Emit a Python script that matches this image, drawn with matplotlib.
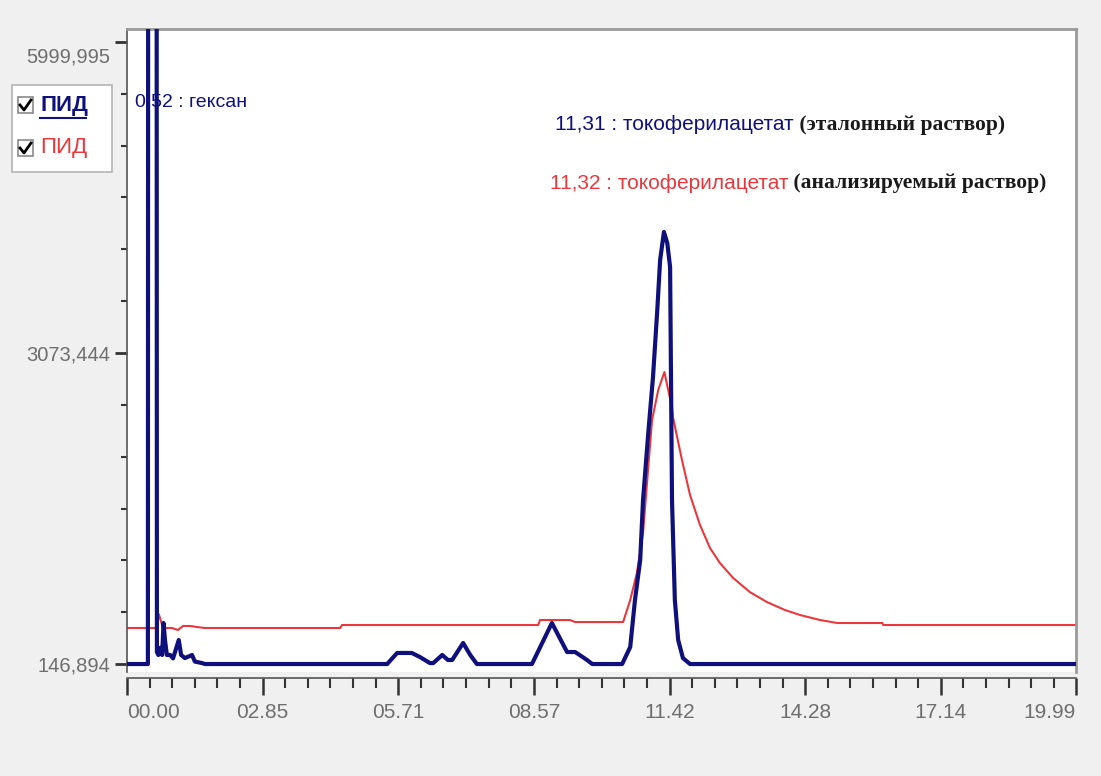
import matplotlib
matplotlib.use("Agg")
import matplotlib.pyplot as plt
import matplotlib.font_manager as fm
import matplotlib.transforms as mtransforms
from matplotlib.patches import Rectangle
from matplotlib.lines import Line2D

# retention time (min) and detector signal
blue_t = [0.00, 0.44, 0.45, 0.62, 0.63, 0.66, 0.70, 0.74, 0.77, 0.80, 0.84, 0.91, 0.97, 1.09, 1.14,
          1.22, 1.37, 1.43, 1.58, 1.64,
          5.48, 5.69, 6.00, 6.17, 6.38, 6.45, 6.64, 6.76, 6.85, 7.08, 7.23, 7.37,
          8.53, 8.95, 9.27, 9.44, 9.69, 9.80,
          10.43, 10.60, 10.70, 10.81, 10.87, 10.98, 11.08, 11.17, 11.23, 11.31, 11.38, 11.44,
          11.48, 11.54, 11.61, 11.71, 11.86, 19.99]
blue_v = [147, 147, 12000, 12000, 260, 232, 300, 232, 533, 373, 232, 232, 200, 373, 232,
          203, 232, 170, 156, 147,
          147, 251, 251, 213, 156, 156, 232, 185, 185, 345, 232, 147,
          147, 533, 260, 260, 185, 147,
          147, 307, 749, 1126, 1690, 2320, 2848, 3478, 3949, 4212, 4109, 3883,
          1690, 749, 373, 203, 147, 147]

red_t = [0.00, 0.63, 0.67, 0.74, 0.80, 0.95, 1.07, 1.18, 1.33, 1.48, 1.64, 1.69,
         4.49, 4.53, 8.66, 8.70, 9.33, 9.44,
         10.45, 10.60, 10.74, 10.87, 10.98, 11.06, 11.19, 11.32, 11.40, 11.48, 11.50,
         11.69, 11.86, 12.07, 12.28, 12.49, 12.77, 13.12, 13.48, 13.86, 14.18, 14.60,
         14.96, 15.91, 15.93, 19.99]
red_v = [486, 486, 617, 514, 486, 486, 467, 505, 505, 495, 486, 486,
         486, 514, 514, 561, 561, 542,
         542, 749, 1003, 1380, 2000, 2443, 2725, 2895, 2725, 2565, 2471,
         2067, 1737, 1455, 1239, 1097, 956, 824, 730, 655, 608, 561,
         533, 533, 514, 514]

y_ticks = [146.894, 3073.444, 5999.995]
y_labels = ["146,894", "3073,444", "5999,995"]
x_ticks = [0, 2.857, 5.714, 8.571, 11.428, 14.285, 17.142, 19.99]
x_labels = ["00.00", "02.85", "05.71", "08.57", "11.42", "14.28", "17.14", "19.99"]

names = {f.name for f in fm.fontManager.ttflist}
sans = "Liberation Sans" if "Liberation Sans" in names else "DejaVu Sans"
serif = "Liberation Serif" if "Liberation Serif" in names else "DejaVu Serif"

navy = "#10107c"
red = "#e8383d"
grey = "#6e6e6e"

W, H = 1101, 776
fig = plt.figure(figsize=(W / 100, H / 100), dpi=100, facecolor="#f0f0f0")
ax = fig.add_axes([127 / W, 1 - 672 / H, 949 / W, (672 - 29) / H])
ax.set_facecolor("white")

ax.plot(red_t, red_v, color=red, lw=1.5, zorder=2)
ax.plot(blue_t, blue_v, color=navy, lw=3.0, zorder=3)

ax.set_xlim(0, 19.99)
ax.set_ylim(72, 6122)

for s in ["top", "right"]:
    ax.spines[s].set_color("#9a9a9a")
    ax.spines[s].set_linewidth(2)
ax.spines["left"].set_color("#555555")
ax.spines["left"].set_linewidth(1.2)
ax.spines["bottom"].set_position(("outward", 4.5))
ax.spines["bottom"].set_color("#555555")
ax.spines["bottom"].set_linewidth(1.2)

ax.set_yticks(y_ticks)
ax.set_yticklabels(y_labels)
ax.set_yticks([y_ticks[0] + k * (y_ticks[1] - y_ticks[0]) / 6 for k in range(13)], minor=True)
ax.set_xticks(x_ticks)
ax.set_xticklabels(x_labels)
ax.set_xticks([k * 2.857 / 6 for k in range(42)], minor=True)

ax.tick_params(axis="y", which="major", length=9, width=2, color="#333333", pad=3,
               labelsize=14.5, labelcolor=grey)
ax.tick_params(axis="y", which="minor", length=4, width=1.5, color="#333333")
ax.tick_params(axis="x", which="major", length=12, width=1.8, color="#333333", pad=6,
               labelsize=15, labelcolor=grey)
ax.tick_params(axis="x", which="minor", length=7, width=1.5, color="#333333")
for lab in ax.get_xticklabels() + ax.get_yticklabels():
    lab.set_fontfamily(sans)
xl = ax.get_xticklabels()
xl[0].set_horizontalalignment("left")
xl[-1].set_horizontalalignment("right")
yl = ax.get_yticklabels()
yl[-1].set_verticalalignment("top")
yl[-1].set_transform(yl[-1].get_transform()
                     + mtransforms.ScaledTranslation(0, -4 / 72, fig.dpi_scale_trans))

# peak annotations
ax.text(0.17, 5435, "0,52 : гексан", color=navy, fontsize=14, family=sans,
        ha="left", va="center", zorder=4)
t1 = ax.text(9.02, 5219, "11,31 : токоферилацетат", color=navy, fontsize=15,
             family=sans, ha="left", va="center")
ax.annotate(" (эталонный раствор)", xy=(1, 0.5), xycoords=t1, va="center",
            fontsize=15.5, family=serif, weight="bold", color="#1a1a1a")
t2 = ax.text(8.91, 4673, "11,32 : токоферилацетат", color=red, fontsize=15,
             family=sans, ha="left", va="center")
ax.annotate(" (анализируемый раствор)", xy=(1, 0.5), xycoords=t2, va="center",
            fontsize=15.5, family=serif, weight="bold", color="#1a1a1a")

# legend box with check boxes
def fx(px):
    return px / W

def fy(py):
    return 1 - py / H

fig.patches.append(Rectangle((fx(12), fy(172)), fx(100), 87 / H, transform=fig.transFigure,
                             facecolor="white", edgecolor="#b5b5b5", lw=1.2, zorder=5))
for row_y, col, bold in [(105, navy, True), (148, red, False)]:
    fig.patches.append(Rectangle((fx(18), fy(row_y + 8)), fx(15), 16 / H,
                                 transform=fig.transFigure, facecolor="white",
                                 edgecolor="#8a8a8a", lw=1.2, zorder=6))
    fig.lines.append(Line2D([fx(20), fx(24), fx(31)], [fy(row_y), fy(row_y + 5), fy(row_y - 5)],
                            transform=fig.transFigure, color="black", lw=2, zorder=7))
    fig.text(fx(40), fy(row_y), "ПИД", color=col, fontsize=16, family=sans,
             weight="bold" if bold else "normal", ha="left", va="center", zorder=7)
fig.lines.append(Line2D([fx(40), fx(86)], [fy(118), fy(118)], transform=fig.transFigure,
                        color=navy, lw=1.5, zorder=7))

fig.savefig("out.png", dpi=100, facecolor=fig.get_facecolor())
